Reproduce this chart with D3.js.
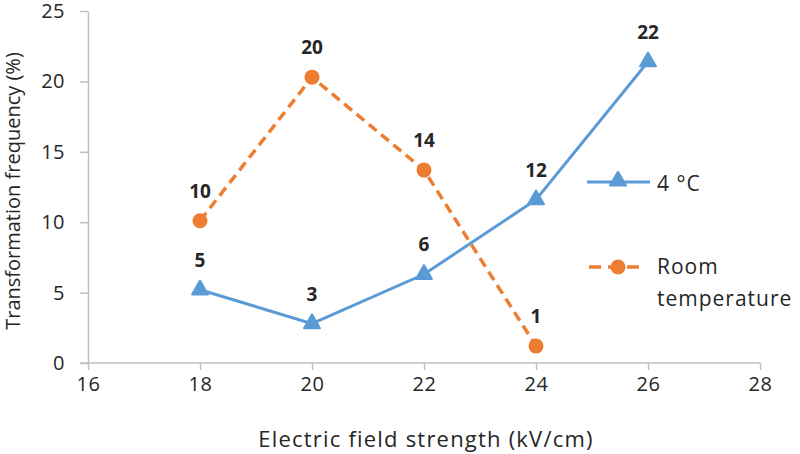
<!DOCTYPE html>
<html>
<head>
<meta charset="utf-8">
<script src="https://cdn.jsdelivr.net/npm/d3@7"></script>
<style>
  body { margin: 0; background: #fff; }
  text { font-family: "Open Sans", sans-serif; fill: #262626; }
</style>
</head>
<body>
<div id="chart"></div>
<script>
// Electric field strength (kV/cm)
const coldX = [18, 20, 22, 24, 26];
const coldY = [5.2, 2.8, 6.3, 11.6, 21.4];
const coldLabels = ['5', '3', '6', '12', '22'];

const roomX = [18, 20, 22, 24];
const roomY = [10.1, 20.3, 13.7, 1.2];
const roomLabels = ['10', '20', '14', '1'];

const xTicks = [16, 18, 20, 22, 24, 26, 28];
const yTicks = [0, 5, 10, 15, 20, 25];

const blue = '#5b9bd5';
const orange = '#ed7d31';
const axisGrey = '#c0c0c0';

const width = 800;
const height = 454;

const svg = d3.select('#chart')
  .append('svg')
  .attr('width', width)
  .attr('height', height);

const x = d3.scaleLinear().domain([16, 28]).range([88, 760]);
const y = d3.scaleLinear().domain([0, 25]).range([363, 11]);

// Axes.
const xAxis = svg.append('g')
  .attr('transform', `translate(0, ${y(0)})`)
  .call(d3.axisBottom(x).tickValues(xTicks).tickSize(7).tickPadding(7).tickSizeOuter(0));
xAxis.select('.domain').attr('stroke', axisGrey).attr('stroke-width', 1.5)
  .attr('d', `M${x(16) - 8},0H${x(28)}`);
xAxis.selectAll('.tick line').attr('stroke', axisGrey).attr('stroke-width', 1.5);
xAxis.selectAll('.tick text')
  .style('font-size', '20px')
  .style('letter-spacing', '0.5px')
  .attr('fill', '#262626');

const yAxis = svg.append('g')
  .attr('transform', `translate(${x(16)}, 0)`)
  .call(d3.axisLeft(y).tickValues(yTicks).tickSize(8).tickPadding(15).tickSizeOuter(0));
yAxis.select('.domain').attr('stroke', axisGrey).attr('stroke-width', 1.5);
yAxis.selectAll('.tick line').attr('stroke', axisGrey).attr('stroke-width', 1.5);
yAxis.selectAll('.tick text')
  .style('font-size', '20px')
  .style('letter-spacing', '0.5px')
  .attr('fill', '#262626');

// Axis titles.
svg.append('text')
  .text('Electric field strength (kV/cm)')
  .attr('x', 426)
  .attr('y', 447)
  .style('text-anchor', 'middle')
  .style('font-size', '22px')
  .style('letter-spacing', '1.2px');

svg.append('text')
  .text('Transformation frequency (%)')
  .attr('transform', 'translate(20, 191) rotate(-90)')
  .style('text-anchor', 'middle')
  .style('font-size', '20px');

const line = d3.line()
  .x(d => x(d[0]))
  .y(d => y(d[1]));

const coldData = coldX.map((v, i) => [v, coldY[i], coldLabels[i]]);
const roomData = roomX.map((v, i) => [v, roomY[i], roomLabels[i]]);

const triangle = d3.symbol().type(d3.symbolTriangle).size(110);

// Room temperature series (dashed, circles).
svg.append('path')
  .datum(roomData)
  .attr('d', line)
  .style('fill', 'none')
  .style('stroke', orange)
  .style('stroke-width', 3.5)
  .style('stroke-dasharray', '10,6');

svg.append('g')
  .selectAll('circle')
  .data(roomData)
  .enter()
  .append('circle')
  .attr('cx', d => x(d[0]))
  .attr('cy', d => y(d[1]))
  .attr('r', 7.5)
  .style('fill', orange);

// 4 °C series (solid, triangles).
svg.append('path')
  .datum(coldData)
  .attr('d', line)
  .style('fill', 'none')
  .style('stroke', blue)
  .style('stroke-width', 3);

svg.append('g')
  .selectAll('path')
  .data(coldData)
  .enter()
  .append('path')
  .attr('d', triangle)
  .attr('transform', d => `translate(${x(d[0])}, ${y(d[1])})`)
  .style('fill', blue)
  .style('stroke', blue)
  .style('stroke-width', 2)
  .style('stroke-linejoin', 'round');

// Data labels, all sitting ~24px above their point.
const labels = svg.append('g')
  .style('font-size', '19px')
  .style('font-weight', 'bold')
  .style('text-anchor', 'middle');

labels.selectAll('text')
  .data(roomData.concat(coldData))
  .enter()
  .append('text')
  .text(d => d[2])
  .attr('x', d => x(d[0]))
  .attr('y', d => y(d[1]) - 23);

// Legend.
const legend = svg.append('g')
  .style('font-size', '21px')
  .style('letter-spacing', '1px');

legend.append('line')
  .attr('x1', 587).attr('x2', 650)
  .attr('y1', 182).attr('y2', 182)
  .style('stroke', blue)
  .style('stroke-width', 3);
legend.append('path')
  .attr('d', triangle)
  .attr('transform', 'translate(618, 181)')
  .style('fill', blue)
  .style('stroke', blue)
  .style('stroke-width', 2)
  .style('stroke-linejoin', 'round');
legend.append('text')
  .text('4 °C')
  .attr('x', 657)
  .attr('y', 191);

legend.append('line')
  .attr('x1', 589).attr('x2', 645)
  .attr('y1', 267).attr('y2', 267)
  .style('stroke', orange)
  .style('stroke-width', 3.5)
  .style('stroke-dasharray', '12,7');
legend.append('circle')
  .attr('cx', 618).attr('cy', 267).attr('r', 7.5)
  .style('fill', orange);
legend.append('text')
  .text('Room')
  .attr('x', 657)
  .attr('y', 274);
legend.append('text')
  .text('temperature')
  .attr('x', 657)
  .attr('y', 306);
</script>
</body>
</html>
